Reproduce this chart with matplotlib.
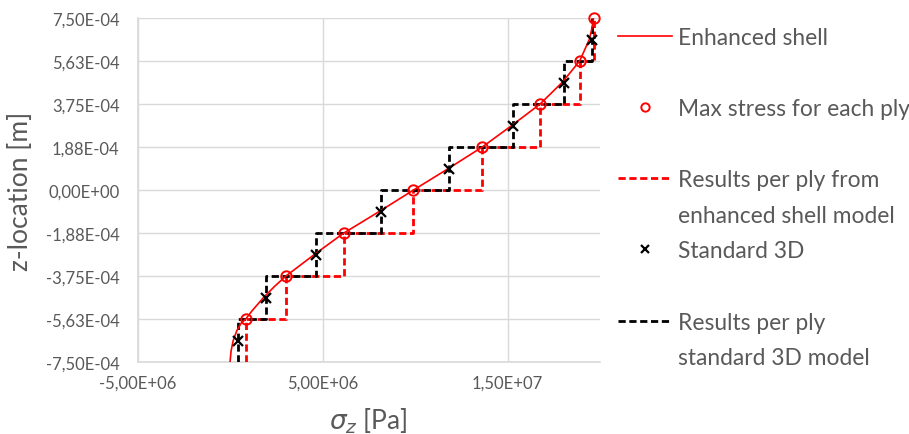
import numpy as np
import matplotlib
matplotlib.use("Agg")
import matplotlib.pyplot as plt
from matplotlib.lines import Line2D

plt.rcParams['font.family'] = ['Lato', 'DejaVu Sans']

# ---- data ----
z_bounds = [-7.5e-4, -5.625e-4, -3.75e-4, -1.875e-4, 0.0, 1.875e-4, 3.75e-4, 5.625e-4, 7.5e-4]

# enhanced shell curve
curve_z = [-7.5e-4, -7.0e-4, -6.56e-4, -6.12e-4, -5.80e-4, -5.625e-4, -5.25e-4, -4.69e-4,
           -4.2e-4, -3.75e-4, -2.81e-4, -1.875e-4, -0.94e-4, 0.0, 0.94e-4, 1.875e-4,
           2.81e-4, 3.75e-4, 4.69e-4, 5.625e-4, 6.56e-4, 7.0e-4, 7.5e-4]
curve_sigma = [0.0, 0.06e6, 0.17e6, 0.37e6, 0.60e6, 0.84e6, 1.20e6, 1.80e6,
               2.40e6, 3.01e6, 4.55e6, 6.14e6, 8.05e6, 9.91e6, 11.80e6, 13.63e6,
               15.22e6, 16.76e6, 17.95e6, 18.90e6, 19.42e6, 19.55e6, 19.65e6]

# max stress for each ply (at top of ply)
max_z = z_bounds[1:]
max_sigma = [0.84e6, 3.01e6, 6.14e6, 9.91e6, 13.63e6, 16.76e6, 18.90e6, 19.65e6]

# standard 3D (ply mid-planes)
std_z = [-6.5625e-4, -4.6875e-4, -2.8125e-4, -0.9375e-4, 0.9375e-4, 2.8125e-4, 4.6875e-4, 6.5625e-4]
std_sigma = [0.44e6, 1.95e6, 4.63e6, 8.18e6, 11.83e6, 15.28e6, 18.03e6, 19.56e6]

xticks = [-5e6, 5e6, 1.5e7]
xtick_labels = ['-5,00E+06', '5,00E+06', '1,50E+07']
yticks = [-7.5e-4, -5.625e-4, -3.75e-4, -1.875e-4, 0.0, 1.875e-4, 3.75e-4, 5.625e-4, 7.5e-4]
ytick_labels = ['-7,50E-04', '-5,63E-04', '-3,75E-04', '-1,88E-04', '0,00E+00',
                '1,88E-04', '3,75E-04', '5,63E-04', '7,50E-04']

labels = ['Enhanced shell', 'Max stress for each ply', 'Results per ply from',
          'enhanced shell model', 'Standard 3D', 'Results per ply', 'standard 3D model']

# ---- figure ----
GRAY = '#595959'
GRID = '#d9d9d9'
fig = plt.figure(figsize=(9.09, 4.35), dpi=100)
ax = fig.add_axes([137.5/909, 1-363.3/435, (600-137.5)/909, (363.3-19)/435])

def steps(vals, bounds):
    xs = np.repeat(vals, 2)
    zs = np.repeat(bounds, 2)[1:-1]
    return xs, zs

dash = (0, (2.6, 1.3))
rx, rz = steps(max_sigma, z_bounds)
bx, bz = steps(std_sigma, z_bounds)
ax.plot(rx, rz, color='#ff0000', lw=2.0, ls=dash, zorder=3)
ax.plot(bx, bz, color='black', lw=2.0, ls=dash, zorder=4)
ax.plot(curve_sigma, curve_z, color='#ff0000', lw=1.2, zorder=5, solid_joinstyle='round')
ax.plot(max_sigma, max_z, ls='none', marker='o', ms=7.5, mfc='none', mec='#ff0000', mew=1.4,
        zorder=6, clip_on=False)
ax.plot(std_sigma, std_z, ls='none', marker='x', ms=7, mec='black', mew=1.6, zorder=7, clip_on=False)

ax.set_xlim(-5e6, 2e7)
ax.set_ylim(-7.5e-4, 7.5e-4)
ax.set_xticks(xticks)
ax.set_xticklabels(xtick_labels)
ax.set_yticks(yticks)
ax.set_yticklabels(ytick_labels)
ax.tick_params(length=0, labelsize=12, labelcolor=GRAY)
ax.tick_params(axis='x', pad=9)
ax.tick_params(axis='y', pad=13)
ax.grid(True, color=GRID, lw=1.0, zorder=0)
ax.set_axisbelow(True)
for s in ['top', 'right']:
    ax.spines[s].set_visible(False)
for s in ['left', 'bottom']:
    ax.spines[s].set_color(GRID)
    ax.spines[s].set_linewidth(1.2)

ax.set_ylabel('z-location [m]', fontsize=19, color=GRAY)
ax.yaxis.set_label_coords(-0.225, 0.5)
ax.set_xlabel(r'$\sigma_z$ [Pa]', fontsize=19, color=GRAY)
ax.xaxis.set_label_coords(0.5, -0.125)

# ---- legend (10 uniform rows, some blank) ----
blank = Line2D([], [], ls='none')
h_curve = Line2D([], [], color='#ff0000', lw=1.2)
h_circ = Line2D([], [], ls='none', marker='o', ms=6, mfc='none', mec='#ff0000', mew=1.4)
h_rdash = Line2D([], [], color='#ff0000', lw=2.0, ls=dash)
h_cross = Line2D([], [], ls='none', marker='x', ms=6, mec='black', mew=1.6)
h_bdash = Line2D([], [], color='black', lw=2.0, ls=dash)
handles = [h_curve, blank, h_circ, blank, h_rdash, blank, h_cross, blank, h_bdash, blank]
leg_labels = [labels[0], ' ', labels[1], ' ', labels[2], labels[3], labels[4], ' ', labels[5], labels[6]]
leg = fig.legend(handles, leg_labels, loc='upper left', bbox_to_anchor=(618/909, 1-28/435),
                 frameon=False, fontsize=16.4, labelcolor=GRAY, handlelength=2.37,
                 handletextpad=0.26, labelspacing=0.64, borderpad=0, borderaxespad=0,
                 numpoints=1)

fig.savefig('out.png', dpi=100)
